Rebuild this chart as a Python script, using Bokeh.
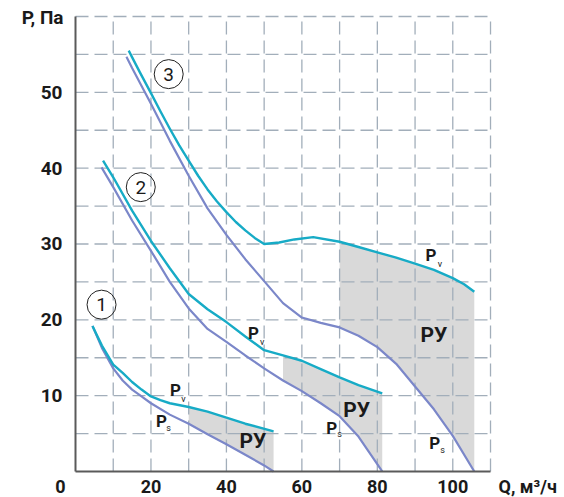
from bokeh.plotting import figure
from bokeh.models import Range1d
from bokeh.core.properties import value
from bokeh.embed import file_html
from bokeh.resources import INLINE

# ---------------- data ----------------
x_ticks = [20, 40, 60, 80, 100]
y_ticks = [10, 20, 30, 40, 50]
x_grid = [10, 20, 30, 40, 50, 60, 70, 80, 90, 100, 110]
y_grid = [5, 10, 15, 20, 25, 30, 35, 40, 45, 50, 55, 60]
x_max = 110
y_max = 60

# curve 1
q1_pv = [4.5, 7, 10, 12.5, 15, 17.5, 20, 22.5, 25, 30, 35, 40, 45, 52.5]
pv1 = [19.2, 16.6, 14.1, 13.0, 11.8, 10.8, 9.9, 9.4, 9.0, 8.5, 7.9, 7.1, 6.3, 5.3]
q1_ps = [4.5, 7, 10, 12.5, 15, 17.5, 20, 25, 30, 35, 40, 45, 50, 52.5]
ps1 = [19.2, 16.3, 13.6, 12.0, 10.8, 9.9, 9.0, 7.5, 6.3, 4.9, 3.6, 2.2, 0.8, 0.0]
ry1_start = 30

# curve 2
q2_pv = [7.3, 10, 15, 20, 25, 30, 35, 40, 45, 50, 55, 60, 65, 70, 75, 81.3]
pv2 = [41.0, 38.8, 34.4, 30.4, 26.8, 23.4, 21.4, 19.7, 17.8, 16.0, 15.3, 14.6, 13.5, 12.4, 11.4, 10.3]
q2_ps = [6.9, 10, 15, 20, 25, 30, 35, 40, 45, 50, 55, 60, 65, 70, 75, 81.3]
ps2 = [40.1, 37.5, 33.1, 29.1, 25.0, 21.5, 18.8, 17.1, 15.3, 13.6, 12.0, 10.6, 9.0, 7.3, 4.6, 0.0]
ry2_start = 55

# curve 3
q3_pv = [14.1, 17, 20, 22.5, 25, 27.5, 30, 32.5, 35, 37.5, 40, 42.5, 45, 47.5, 50, 54, 58, 63,
         70, 75, 80, 85, 90, 95, 100, 103, 105.7]
pv3 = [55.5, 52.7, 49.9, 47.5, 45.2, 43.0, 41.0, 39.0, 37.2, 35.6, 34.2, 32.9, 31.8, 30.8, 30.0, 30.2, 30.6, 30.9,
       30.3, 29.6, 28.9, 28.2, 27.4, 26.6, 25.5, 24.7, 23.7]
q3_ps = [13.5, 15, 20, 25, 30, 35, 40, 45, 50, 55, 60, 65, 70, 75, 80, 85, 90, 95, 100, 105.7]
ps3 = [54.7, 53.2, 48.5, 43.6, 39.0, 34.7, 31.2, 28.0, 25.1, 22.2, 20.3, 19.6, 19.0, 17.9, 16.4, 14.2, 11.2, 8.2, 4.7, 0.0]
ry3_start = 70

# markers of the curves
mark_x = [6.9, 17.3, 24.7]
mark_y = [22.0, 37.5, 52.4]
mark_text = ["1", "2", "3"]

# P labels
p_x = [26.5, 22.8, 47.2, 67.9, 94.2, 95.2]
p_y = [10.7, 6.6, 18.3, 5.8, 28.6, 3.7]
sub_x = [28.6, 24.7, 49.5, 70.0, 96.6, 97.3]
sub_y = [9.5, 5.7, 17.1, 5.0, 27.4, 2.8]
sub_text = ["v", "s", "v", "s", "v", "s"]
ry_x = [47.0, 74.5, 95.0]
ry_y = [4.0, 8.1, 18.0]

# ---------------- styles ----------------
PV_COLOR = "#17abc6"
PS_COLOR = "#7b87c9"
FILL = "#d9d9d9"
GRID = "#a2aeba"
AXIS = "#5a5a5a"
TXT = "#1a1a1a"
FONT = "Roboto"

# the frame covers the whole canvas; data ranges chosen so that the
# plotting area (0..110, 0..60) sits where the reference has it
p = figure(width=564, height=497, x_range=Range1d(-19.88, 129.61), y_range=Range1d(-3.43, 62.11),
           x_axis_type=None, y_axis_type=None,
           output_backend="svg", toolbar_location=None,
           min_border_left=0, min_border_right=0, min_border_top=0, min_border_bottom=0)
p.outline_line_color = None
p.background_fill_color = "white"
p.xgrid.visible = False
p.ygrid.visible = False

# dashed grid, limited to the plotting area
p.multi_line([[gx, gx] for gx in x_grid], [[0, y_max] for _ in x_grid],
             line_color=GRID, line_width=1.3, line_dash="13 6", level="underlay")
p.multi_line([[0, x_max] for _ in y_grid], [[gy, gy] for gy in y_grid],
             line_color=GRID, line_width=1.3, line_dash="13 6", level="underlay")


def region(qv, pv, qs, ps, start):
    xs = [q for q in qv if q >= start]
    ys = [v for q, v in zip(qv, pv) if q >= start]
    xs2 = [q for q in qs if q >= start][::-1]
    ys2 = [v for q, v in zip(qs, ps) if q >= start][::-1]
    return xs + xs2, ys + ys2


for qv, pv, qs, ps, st in [(q1_pv, pv1, q1_ps, ps1, ry1_start),
                           (q2_pv, pv2, q2_ps, ps2, ry2_start),
                           (q3_pv, pv3, q3_ps, ps3, ry3_start)]:
    xx, yy = region(qv, pv, qs, ps, st)
    p.patch(xx, yy, fill_color=FILL, line_color=None, level="image")

for qs, ps in [(q1_ps, ps1), (q2_ps, ps2), (q3_ps, ps3)]:
    p.line(qs, ps, line_color=PS_COLOR, line_width=2.2, line_join="round")
for qv, pv in [(q1_pv, pv1), (q2_pv, pv2), (q3_pv, pv3)]:
    p.line(qv, pv, line_color=PV_COLOR, line_width=2.4, line_join="round")

# axis lines
p.segment(x0=[0, 0], y0=[0, 0], x1=[0, x_max], y1=[y_max, 0], line_color=AXIS, line_width=2)

# circle markers
p.scatter(mark_x, mark_y, size=29, fill_color=None, line_color="#222222", line_width=1)
p.text(mark_x, mark_y, text=mark_text, text_align="center", text_baseline="middle",
       text_font=value(FONT), text_font_size=value("19px"), text_color=TXT)

# P labels
p.text(p_x, p_y, text=["P"] * len(p_x), text_align="center", text_baseline="middle",
       text_font=value(FONT), text_font_style="bold", text_font_size=value("17px"), text_color=TXT)
p.text(sub_x, sub_y, text=sub_text, text_align="center", text_baseline="middle",
       text_font=value(FONT), text_font_size=value("9px"), text_color=TXT)
p.text(ry_x, ry_y, text=["РУ"] * len(ry_x), text_align="center", text_baseline="middle",
       text_font=value(FONT), text_font_style="bold", text_font_size=value("21px"), text_color=TXT)

# tick labels
p.text([-3.45] * len(y_ticks), y_ticks, text=[str(t) for t in y_ticks], text_align="right",
       text_baseline="middle", text_font=value(FONT), text_font_style="bold",
       text_font_size=value("19px"), text_color=TXT)
p.text(x_ticks, [-1.95] * len(x_ticks), text=[str(t) for t in x_ticks], text_align="center",
       text_baseline="middle", text_font=value(FONT), text_font_style="bold",
       text_font_size=value("18px"), text_color=TXT)
p.text([-3.98], [-1.95], text=["0"], text_align="center", text_baseline="middle",
       text_font=value(FONT), text_font_style="bold", text_font_size=value("18px"), text_color=TXT)

# axis titles
p.text([-3.18], [59.87], text=["P, Па"], text_align="right", text_baseline="middle",
       text_font=value(FONT), text_font_style="bold", text_font_size=value("19px"), text_color=TXT)
p.text([112.12], [-1.95], text=["Q, м³/ч"], text_align="left", text_baseline="middle",
       text_font=value(FONT), text_font_style="bold", text_font_size=value("18px"), text_color=TXT)

open("out.html", "w").write(file_html(p, INLINE))
